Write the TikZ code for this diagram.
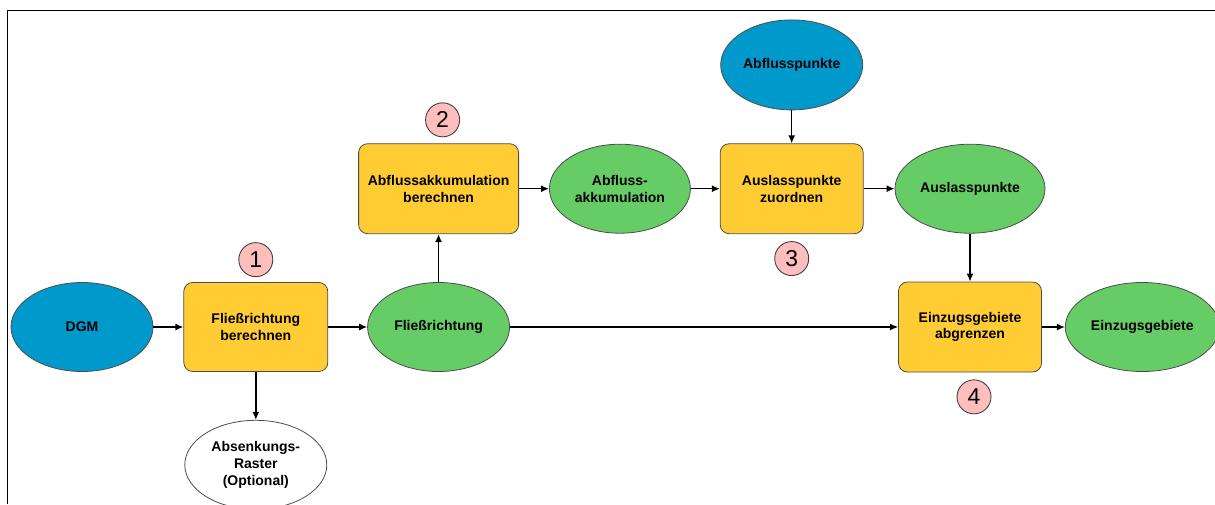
\documentclass[tikz,border=0pt]{standalone}
\usepackage{fontspec}
\setmainfont{Liberation Sans}
\usetikzlibrary{arrows.meta}
\usetikzlibrary{positioning}
\usetikzlibrary{shapes.geometric}
\definecolor{datablue}{RGB}{0,153,204}
\definecolor{datagreen}{RGB}{102,204,102}
\definecolor{toolyellow}{RGB}{255,204,51}
\definecolor{badgepink}{RGB}{255,190,190}
\tikzset {
  flow node/.style = {
    draw = black!70,
    line width = 0.8pt,
    align = center,
    inner sep = 0pt,
    font = \fontsize{14}{16.7}\selectfont\bfseries
  },
  % input data
  indata/.style = {
    flow node,
    ellipse,
    fill = datablue,
    minimum width = 142pt,
    minimum height = 89pt
  },
  % derived data
  outdata/.style = {
    indata,
    fill = datagreen
  },
  % optional output
  optdata/.style = {
    indata,
    fill = white
  },
  % tool
  tool/.style = {
    flow node,
    rectangle,
    rounded corners = 9pt,
    fill = toolyellow,
    minimum width = 143pt,
    minimum height = 90pt
  },
  % step number
  badge/.style = {
    draw = black!75,
    line width = 0.9pt,
    circle,
    fill = badgepink,
    minimum size = 34pt,
    inner sep = 0pt,
    font = \fontsize{23}{23}\selectfont
  },
  link/.style = {
    draw = black,
    line width = 1.4pt,
    -{Latex[length = 8pt, width = 7pt]}
  },
  node distance = 30pt
}
\begin{document}
\begin{tikzpicture}[x = 1pt, y = -1pt]
    \useasboundingbox (0,0) rectangle (1215,504);
    \draw[line width = 0.8pt] (7,504) -- (7,10) -- (1215,10);

    \node[indata] (dgm) at (82,327) {DGM};
    \node[tool, minimum width = 144pt, minimum height = 89pt] (flowdir-calc)
      [right=30pt of dgm] {Fließrichtung\\berechnen};
    \node[outdata] (flowdir) [right=39pt of flowdir-calc] {Fließrichtung};
    \node[optdata] (sink-raster) [below=48pt of flowdir-calc]
      {Absenkungs-\\Raster\\(Optional)};

    \node[tool, minimum width = 160pt] (accum-calc) [above=48pt of flowdir]
      {Abflussakkumulation\\berechnen};
    \node[outdata, minimum width = 141pt] (accum) [right=30pt of accum-calc]
      {Abfluss-\\akkumulation};
    \node[tool] (outlet-snap) [right=29pt of accum] {Auslasspunkte\\zuordnen};
    \node[indata, minimum height = 90pt] (pour-points) [above=33pt of outlet-snap]
      {Abflusspunkte};
    \node[outdata, minimum width = 150pt] (outlets) [right=31pt of outlet-snap]
      {Auslasspunkte};

    \node[tool] (basin-calc) [below=48pt of outlets] {Einzugsgebiete\\abgrenzen};
    \node[outdata, minimum width = 154pt] (basins) [right=23pt of basin-calc]
      {Einzugsgebiete};

    \node[badge] (num-1) [above=5pt of flowdir-calc] {1};
    \node[badge, xshift = 4pt] (num-2) [above=6pt of accum-calc] {2};
    \node[badge] (num-3) [below=7pt of outlet-snap] {3};
    \node[badge, xshift = 4pt] (num-4) [below=7pt of basin-calc] {4};

    \draw[link] (dgm) -- (flowdir-calc);
    \draw[link] (flowdir-calc) -- (flowdir);
    \draw[link] (flowdir-calc) -- (sink-raster);
    \draw[link] (flowdir) -- (accum-calc);
    \draw[link] (accum-calc) -- (accum);
    \draw[link] (accum) -- (outlet-snap);
    \draw[link] (pour-points) -- (outlet-snap);
    \draw[link] (outlet-snap) -- (outlets);
    \draw[link] (outlets) -- (basin-calc);
    \draw[link] (flowdir.east) -- (flowdir.east -| basin-calc.west);
    \draw[link] (basin-calc) -- (basins);
  \end{tikzpicture}
\end{document}
